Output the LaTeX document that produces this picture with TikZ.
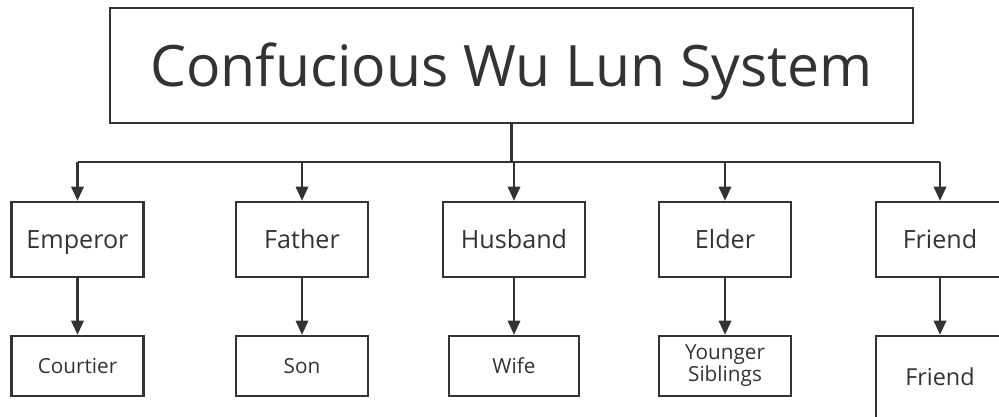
\documentclass[tikz,border=0pt]{standalone}
\usepackage{fontspec}
\setmainfont{Open Sans}
\usepackage{tikz}
\usetikzlibrary{arrows.meta}

\definecolor{ink}{HTML}{333333}

\begin{document}
\begin{tikzpicture}[x=0.02cm,y=-0.02cm,
    box/.style={draw=ink,line width=1.4pt,text=ink,inner sep=0pt,
                align=center,minimum width=2.64cm,minimum height=1.5cm},
    head/.style={box,text height=11.4pt,text depth=1.1pt,
                 font=\fontsize{14.3}{17}\selectfont},
    leaf/.style={box,minimum height=1.2cm,font=\fontsize{11.8}{12.5}\selectfont},
    link/.style={draw=ink,line width=1.3pt},
    arr/.style={link,-{Triangle[length=8pt,width=7pt]}}]

\useasboundingbox (0,0) rectangle (999,416);
\clip (0,0) rectangle (999,416);

% Title
\node[box,minimum width=16.06cm,minimum height=2.3cm,
      text height=26pt,text depth=2.6pt,
      font=\fontsize{32.5}{36}\selectfont] (title) at (511.5,65.5)
    {Confucious Wu Lun System};

% First row
\node[head] (emperor) at (77.5,239.5) {Emperor};
\node[head] (father) at (302,239.5) {Father};
\node[head,minimum width=2.84cm] (husband) at (514,239.5) {Husband};
\node[head] (elder) at (725,239.5) {Elder};
\node[head,minimum width=2.56cm] (friendA) at (940,239.5) {Friend};

% Second row
\node[leaf,text height=9.4pt,text depth=0.9pt] (courtier) at (77.5,366) {Courtier};
\node[leaf,text height=9.4pt,text depth=0.9pt] (son) at (302,366) {Son};
\node[leaf,text height=9.4pt,text depth=0.9pt,minimum width=2.6cm] (wife) at (514,366) {Wife};
\node[leaf] (younger) at (725,366) {Younger\\Siblings};
\node[leaf,minimum width=2.56cm,minimum height=1.64cm,
      text height=10.6pt,text depth=1.1pt,
      font=\fontsize{13.3}{16}\selectfont] (friendB) at (940,377) {Friend};

% Bus
\coordinate (bus) at (0,162);
\draw[link] (title.south) -- (title.south |- bus);
\draw[link] (emperor.north |- bus) -- (friendA.north |- bus);

\draw[arr] (emperor.north |- bus) -- (emperor.north);
\draw[arr] (father.north |- bus) -- (father.north);
\draw[arr] (husband.north |- bus) -- (husband.north);
\draw[arr] (elder.north |- bus) -- (elder.north);
\draw[arr] (friendA.north |- bus) -- (friendA.north);

% Pairs
\draw[arr] (emperor) -- (courtier);
\draw[arr] (father) -- (son);
\draw[arr] (husband) -- (wife);
\draw[arr] (elder) -- (younger);
\draw[arr] (friendA) -- (friendB);

\end{tikzpicture}
\end{document}
